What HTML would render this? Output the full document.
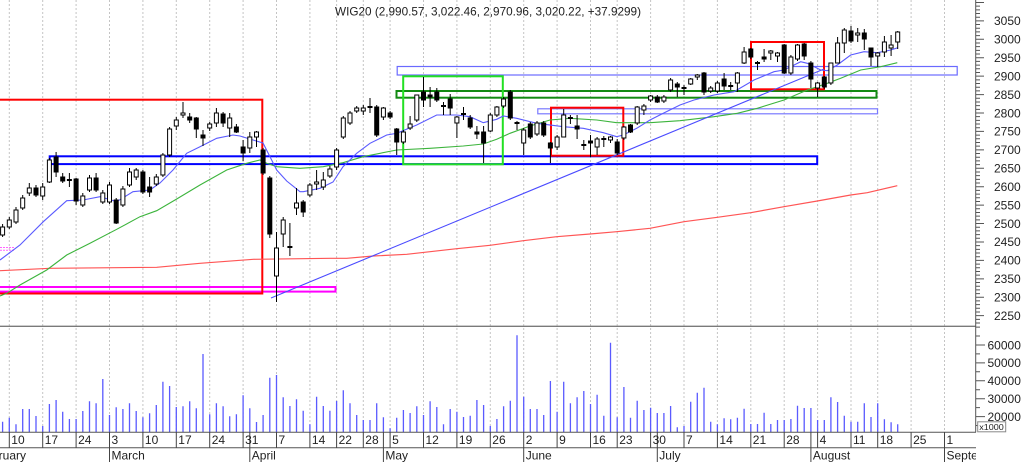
<!DOCTYPE html>
<html><head><meta charset="utf-8"><style>
html,body{margin:0;padding:0;background:#fff;}
svg{display:block;}
text{font-family:"Liberation Sans",Arial,sans-serif;fill:#222;}
</style></head><body>
<svg width="1024" height="462" viewBox="0 0 1024 462" xmlns="http://www.w3.org/2000/svg">
<defs>
<clipPath id="main"><rect x="0" y="0" width="976" height="326"/></clipPath>
<clipPath id="vol"><rect x="0" y="327" width="976" height="105"/></clipPath>
<clipPath id="dates"><rect x="0" y="432" width="976" height="30"/></clipPath>
<clipPath id="axis"><rect x="976" y="0" width="48" height="326"/></clipPath>
</defs>
<rect width="1024" height="462" fill="#fff"/>

<!-- gridlines -->
<path d="M9.3 0V432M42.7 0V432M76.1 0V432M109.5 0V432M142.9 0V432M176.3 0V432M209.7 0V432M243.1 0V432M276.5 0V432M309.9 0V432M336.6 0V432M363.3 0V432M390.1 0V432M423.5 0V432M456.9 0V432M490.3 0V432M523.7 0V432M557.1 0V432M590.5 0V432M617.2 0V432M650.6 0V432M684 0V432M717.4 0V432M750.8 0V432M784.2 0V432M817.6 0V432M851 0V432M877.7 0V432M911.1 0V432M944.5 0V432" stroke="#c4c4c4" stroke-width="1" stroke-dasharray="2 2" fill="none"/>

<g clip-path="url(#main)">
<!-- boxes -->
<rect x="-5" y="287" width="340.5" height="4.6" fill="none" stroke="#ff00ff" stroke-width="2"/>
<rect x="-5" y="99.7" width="267.3" height="193.8" fill="none" stroke="#ff0000" stroke-width="2"/>
<rect x="49.7" y="156.3" width="767.5" height="7.8" fill="none" stroke="#0000ff" stroke-width="2"/>
<rect x="397.2" y="66.5" width="560" height="8.5" fill="none" stroke="#6a6aff" stroke-width="1.2"/>
<rect x="396.5" y="91" width="480" height="6.7" fill="none" stroke="#128a12" stroke-width="2"/>
<rect x="537.8" y="108.8" width="339.7" height="5" fill="none" stroke="#7a7aff" stroke-width="1.2"/>
<rect x="403.2" y="76.3" width="99.6" height="88" fill="none" stroke="#22e022" stroke-width="2"/>
<rect x="551" y="107.7" width="72.3" height="48" fill="none" stroke="#ff0000" stroke-width="2"/>
<rect x="751" y="42" width="73" height="47.3" fill="none" stroke="#ff0000" stroke-width="2"/>
<path d="M0 247.5H15M0 250.3H15" stroke="#ff66ff" stroke-width="1" stroke-dasharray="2 1"/>

<!-- MAs -->
<path d="M0 270.7L50 268.3L156.7 267.3L200 263.3L253.3 259.3L330 258.3L346.7 258.3L373.3 256L406.7 254.3L456.7 248.7L490 245.3L523.3 240.7L556.7 236.7L590 234L616.7 231.7L650 228.3L684 221.7L717.3 217.3L750.7 212.7L784 206.7L817.3 201L850.7 195L867.3 192.7L897.3 185.7" fill="none" stroke="#ff5555" stroke-width="1.2"/>
<path d="M0 296L6.7 293.3L20 285L46.7 270L66.7 255L90 243.3L116.7 229.3L140 216.7L156.7 210.7L176.7 199L200 185L226.7 170L246.7 163.3L260 160L266.7 163.3L276.7 166.7L300 168.3L323.3 166.7L343 162.7L363 156.7L396.7 150L430 148.3L463.3 146L483.3 144L496.7 139.3L510 133.3L530 126L550 120L570 118.3L596.7 120L616.7 122.7L650 122.7L680 120.7L714 116.7L737.3 113.3L757.3 108.3L784 100L807.3 90L827.3 83.3L840.7 78.3L860.7 70L880.7 66.7L897.3 62.7" fill="none" stroke="#3cb43c" stroke-width="1.1"/>
<path d="M271 298L824 69" fill="none" stroke="#4a4aff" stroke-width="1.1"/>
<path d="M0 260L20 245L43.3 221.7L66.7 200.7L83 200L100 196.7L116.7 201.7L133 191.7L150 190L160 183L173 170L186.7 153.3L200 146.7L216.7 138.3L233 135L240 136L253 140L263 143L270 156.7L276.7 170L286.7 181L300 191.7L303.3 191.7L320 188.3L333 182L343 166.7L356.7 153.3L370 143.3L386.7 135L396.7 133.3L416.7 125L436.7 115L456.7 115L470 116.7L483.3 122.7L496.7 119.3L503.3 116L516.7 118.3L536.7 123.3L563.3 126.7L583.3 128.3L603.3 132.7L616.7 136.7L623.3 135L636.7 128.3L650 120L663.3 113.3L680 105L694 100L714 95L734 91.7L754 80L774 71.7L784 70L800.7 61.7L807.3 63.3L820.7 70L827.3 70.7L837.3 65L850.7 55L864 51.7L877.3 52.7L890.7 50L898 47.7" fill="none" stroke="#5a5aff" stroke-width="1.1"/>

<!-- wicks -->
<path d="M2.6 224V237M9.3 217V229M16 207V224M22.7 195V210M29.3 183V196M36 185V197M42.7 183V200M49.4 158V183M56.1 152V177M62.7 173V183M69.4 173V187M76.1 178V205M82.8 193V207M89.5 175V192M96.1 173V192M102.8 190V204M109.5 182V204M116.2 198V224M122.9 186V207M129.5 168V187M136.2 168V180M142.9 170V194M149.6 177V197M156.3 174V186M162.9 153V177M169.6 127V157M176.3 117V130M183 102V118M189.7 113V123M196.3 117V138M203 130V146M209.7 122V131M216.4 108V127M223.1 112V127M229.7 113V137M236.4 124V133M243.1 140V161M249.8 132V153M256.5 131V147M263.1 148V175M269.8 176V238M276.5 232V302M283.2 217V247M289.9 223V256M296.5 188V215M303.2 200V217M309.9 183V197M316.6 170V190M323.3 172V190M329.9 166V178M336.6 148V170M343.3 116V139M350 111V125M356.7 106V113M363.3 105V115M370 98V113M376.7 105V137M383.4 107V120M390.1 111V119M396.7 128V155M403.4 130V144M410.1 116V130M416.8 95V122M423.5 77V107M430.1 87V107M436.8 88V102M443.5 102V115M450.2 94V115M456.9 116V138M463.5 107V120M470.2 115V129M476.9 126V139M483.6 126V163M490.3 113V132M496.9 106V117M503.6 97V108M510.3 90V120M517 121V130M523.7 128V155M530.3 122V139M537 121V136M543.7 121V137M550.4 142V163M557.1 135V150M563.7 109V137M570.4 115V124M577.1 115V139M583.8 140V150M590.5 135V157M597.1 137V155M603.8 136V147M610.5 136V143M617.2 139V155M623.9 126V140M630.5 124V133M637.2 106V125M643.9 104V115M650.6 95V102M657.3 95V103M663.9 95V103M670.6 78V92M677.3 82V97M684 85V95M690.7 78V85M697.3 74V80M704 72V95M710.7 86V93M717.4 81V93M724.1 73V90M730.7 82V90M737.4 72V92M744.1 47V64M750.8 48V59M757.5 61V70M764.1 49V62M770.8 50V60M777.5 52V62M784.2 44V74M790.9 55V75M797.5 44V61M804.2 43V60M810.9 61V88M817.6 82V97M824.3 76V89M830.9 63V85M837.6 37V63M844.3 28V53M851 26V43M857.7 28V42M864.3 29V50M871 48V66M877.7 52V67M884.4 36V57M891.1 35V56M897.7 31V49" stroke="#000" stroke-width="1" fill="none"/>

<!-- white bodies -->
<path d="M0.6 227h4v8h-4zM7.3 220h4v7h-4zM14 210h4v12h-4zM20.7 198h4v10h-4zM27.3 188h4v5h-4zM40.7 187h4v9h-4zM47.4 160h4v22h-4zM80.8 196h4v9h-4zM87.5 178h4v12h-4zM100.8 193h4v9h-4zM107.5 185h4v17h-4zM120.9 189h4v16h-4zM127.5 172h4v13h-4zM134.2 170h4v7h-4zM154.3 177h4v7h-4zM160.9 155h4v20h-4zM167.6 129h4v26h-4zM174.3 120h4v6h-4zM181 113h4v2h-4zM207.7 124h4v4h-4zM214.4 113h4v10h-4zM227.7 118h4v10h-4zM247.8 137h4v11h-4zM254.5 132h4v5h-4zM274.5 248h4v28h-4zM281.2 220h4v14h-4zM294.5 203h4v5h-4zM307.9 185h4v10h-4zM314.6 182h4v2h-4zM321.3 180h4v7h-4zM327.9 169h4v7h-4zM334.6 150h4v17h-4zM341.3 118h4v19h-4zM348 113h4v10h-4zM354.7 108h4v3h-4zM361.3 108h4v3h-4zM381.4 108h4v9h-4zM401.4 132h4v10h-4zM408.1 124h4v4h-4zM414.8 95h4v25h-4zM454.9 117h4v6h-4zM488.3 115h4v16h-4zM494.9 107h4v8h-4zM501.6 99h4v7h-4zM521.7 130h4v13h-4zM535 123h4v11h-4zM555.1 137h4v10h-4zM561.7 115h4v22h-4zM595.1 139h4v8h-4zM608.5 137h4v3h-4zM621.9 127h4v11h-4zM635.2 107h4v16h-4zM641.9 106h4v4h-4zM648.6 96h4v4h-4zM661.9 97h4v4h-4zM668.6 80h4v10h-4zM688.7 79h4v5h-4zM695.3 75h4v2h-4zM708.7 88h4v3h-4zM715.4 83h4v8h-4zM735.4 73h4v10h-4zM742.1 52h4v11h-4zM768.8 51h4v2h-4zM775.5 53h4v3h-4zM788.9 57h4v16h-4zM795.5 45h4v14h-4zM815.6 83h4v5h-4zM828.9 63h4v20h-4zM835.6 43h4v20h-4zM842.3 30h4v13h-4zM855.7 33h4v2h-4zM875.7 53h4v3h-4zM882.4 42h4v10h-4zM889.1 45h4v3h-4zM895.7 32h4v10h-4z" fill="#fff" stroke="#000" stroke-width="1"/>

<!-- black bodies -->
<path d="M34 188h4v7h-4zM54.1 157h4v15h-4zM60.7 177h4v4h-4zM67.4 179.5h4v1h-4zM74.1 179h4v22h-4zM94.1 178h4v12h-4zM114.2 200h4v23h-4zM140.9 172h4v20h-4zM147.6 187h4v5h-4zM187.7 117h4v3h-4zM194.3 118h4v11h-4zM201 135h4v3h-4zM221.1 114h4v9h-4zM234.4 127h4v5h-4zM241.1 147h4v6h-4zM261.1 150h4v23h-4zM267.8 178h4v56h-4zM287.9 246.5h4v1h-4zM301.2 202h4v10h-4zM368 106.5h4v1h-4zM374.7 107h4v28h-4zM388.1 113h4v4h-4zM394.7 129h4v13h-4zM421.5 92h4v8h-4zM428.1 95h4v2h-4zM434.8 92h4v8h-4zM441.5 105.5h4v1h-4zM448.2 99h4v9h-4zM461.5 113.5h4v1h-4zM468.2 118h4v9h-4zM474.9 132h4v2h-4zM481.6 132h4v11h-4zM508.3 92h4v26h-4zM515 122.5h4v1h-4zM528.3 124h4v13h-4zM541.7 123h4v12h-4zM548.4 143h4v5h-4zM568.4 117.5h4v1h-4zM575.1 126h4v3h-4zM581.8 144.5h4v1h-4zM588.5 141h4v2h-4zM601.8 138.5h4v1h-4zM615.2 142h4v11h-4zM628.5 125h4v7h-4zM655.3 97h4v5h-4zM675.3 84h4v3h-4zM682 87.5h4v1h-4zM702 73h4v19h-4zM722.1 79h4v7h-4zM728.7 85.5h4v1h-4zM748.8 49h4v8h-4zM755.5 62.5h4v1h-4zM762.1 57h4v2h-4zM782.2 45h4v28h-4zM802.2 44h4v12h-4zM808.9 63h4v16h-4zM822.3 77h4v10h-4zM849 31h4v10h-4zM862.3 33h4v6h-4zM869 48h4v9h-4z" fill="#000" stroke="#000" stroke-width="1"/>
</g>

<!-- volume bars -->
<g clip-path="url(#vol)">
<path d="M2.6 432V421.7M9.3 432V417.7M16 432V424.3M22.7 432V409M29.3 432V409M36 432V416M42.7 432V426M49.4 432V404M56.1 432V400M62.7 432V411.7M69.4 432V419M76.1 432V419M82.8 432V411M89.5 432V401.3M96.1 432V403.3M102.8 432V379M109.5 432V415M116.2 432V407.3M122.9 432V409M129.5 432V403.3M136.2 432V411M142.9 432V417.3M149.6 432V413.3M156.3 432V405M162.9 432V381.7M169.6 432V386M176.3 432V407M183 432V406.3M189.7 432V401.3M196.3 432V408.3M203 432V354M209.7 432V414.3M216.4 432V403.3M223.1 432V406.3M229.7 432V416.3M236.4 432V414.3M243.1 432V395.3M249.8 432V408.3M256.5 432V422M263.1 432V415M269.8 432V377.7M276.5 432V375M283.2 432V397.3M289.9 432V406M296.5 432V399.3M303.2 432V410.7M309.9 432V424.3M316.6 432V396.7M323.3 432V406M329.9 432V410.7M336.6 432V401M343.3 432V390.3M350 432V403.3M356.7 432V415M363.3 432V420M370 432V420M376.7 432V403.3M383.4 432V417.3M390.1 432V428.3M396.7 432V417.7M403.4 432V410M410.1 432V413M416.8 432V406.3M423.5 432V415M430.1 432V401.3M436.8 432V407M443.5 432V424.3M450.2 432V409M456.9 432V411.7M463.5 432V417M470.2 432V415.7M476.9 432V400M483.6 432V405M490.3 432V426M496.9 432V419M503.6 432V406.3M510.3 432V400.7M517 432V335.3M523.7 432V396.7M530.3 432V409M537 432V409M543.7 432V415M550.4 432V381M557.1 432V411.7M563.7 432V381.7M570.4 432V403.3M577.1 432V397.3M583.8 432V391M590.5 432V404M597.1 432V394.7M603.8 432V415.7M610.5 432V342.7M617.2 432V417.3M623.9 432V387M630.5 432V417.7M637.2 432V400.7M643.9 432V410M650.6 432V407.7M657.3 432V413M663.9 432V413M670.6 432V406M677.3 432V427.3M684 432V426M690.7 432V401.7M697.3 432V392.7M704 432V387.7M710.7 432V421.7M717.4 432V424.3M724.1 432V418.3M730.7 432V419.3M737.4 432V417.7M744.1 432V408.7M750.8 432V424M757.5 432V424M764.1 432V412.7M770.8 432V424M777.5 432V420M784.2 432V420M790.9 432V419M797.5 432V405.7M804.2 432V408M810.9 432V408M817.6 432V420M824.3 432V420M830.9 432V397.3M837.6 432V402M844.3 432V415.7M851 432V421.7M857.7 432V421.7M864.3 432V403.3M871 432V417M877.7 432V403.3M884.4 432V419.3M891.1 432V422.3M897.7 432V424.3" stroke="#5a5aff" stroke-width="1.3" fill="none"/>
</g>

<!-- panel lines -->
<path d="M0 326.3H976" stroke="#7a7a7a" stroke-width="1.3"/>
<path d="M0 432.3H976M0 447.7H976" stroke="#555" stroke-width="1"/>
<path d="M975.7 0V432.3" stroke="#555" stroke-width="1"/>

<!-- price axis ticks -->
<g clip-path="url(#axis)">
<path d="M976 2.45h8m-8 3.685h4m-4 3.685h4m-4 3.685h4m-4 3.685h4m-4 3.685h8m-8 3.685h4m-4 3.685h4m-4 3.685h4m-4 3.685h4m-4 3.685h8m-8 3.685h4m-4 3.685h4m-4 3.685h4m-4 3.685h4m-4 3.685h8m-8 3.685h4m-4 3.685h4m-4 3.685h4m-4 3.685h4m-4 3.685h8m-8 3.685h4m-4 3.685h4m-4 3.685h4m-4 3.685h4m-4 3.685h8m-8 3.685h4m-4 3.685h4m-4 3.685h4m-4 3.685h4m-4 3.685h8m-8 3.685h4m-4 3.685h4m-4 3.685h4m-4 3.685h4m-4 3.685h8m-8 3.685h4m-4 3.685h4m-4 3.685h4m-4 3.685h4m-4 3.685h8m-8 3.685h4m-4 3.685h4m-4 3.685h4m-4 3.685h4m-4 3.685h8m-8 3.685h4m-4 3.685h4m-4 3.685h4m-4 3.685h4m-4 3.685h8m-8 3.685h4m-4 3.685h4m-4 3.685h4m-4 3.685h4m-4 3.685h8m-8 3.685h4m-4 3.685h4m-4 3.685h4m-4 3.685h4m-4 3.685h8m-8 3.685h4m-4 3.685h4m-4 3.685h4m-4 3.685h4m-4 3.685h8m-8 3.685h4m-4 3.685h4m-4 3.685h4m-4 3.685h4m-4 3.685h8m-8 3.685h4m-4 3.685h4m-4 3.685h4m-4 3.685h4m-4 3.685h8m-8 3.685h4m-4 3.685h4m-4 3.685h4m-4 3.685h4m-4 3.685h8m-8 3.685h4m-4 3.685h4m-4 3.685h4m-4 3.685h4m-4 3.685h8m-8 3.685h4m-4 3.685h4m-4 3.685h4m-4 3.685h4" stroke="#555" stroke-width="1" fill="none"/>
</g>
<!-- volume axis ticks -->
<path d="M976 327.1h4M976 336h4M976 345h9M976 353.9h4M976 362.9h9M976 371.8h4M976 380.8h9M976 389.7h4M976 398.7h9M976 407.6h4M976 416.6h9M976 425.5h4" stroke="#555" stroke-width="1" fill="none"/>

<!-- price labels -->
<g font-size="12">
<text x="994" y="25.2">3050</text>
<text x="994" y="43.6">3000</text>
<text x="994" y="62">2950</text>
<text x="994" y="80.5">2900</text>
<text x="994" y="98.9">2850</text>
<text x="994" y="117.3">2800</text>
<text x="994" y="135.7">2750</text>
<text x="994" y="154.1">2700</text>
<text x="994" y="172.6">2650</text>
<text x="994" y="191">2600</text>
<text x="994" y="209.4">2550</text>
<text x="994" y="227.8">2500</text>
<text x="994" y="246.2">2450</text>
<text x="994" y="264.7">2400</text>
<text x="994" y="283.1">2350</text>
<text x="994" y="301.5">2300</text>
<text x="994" y="319.9">2250</text>
<text x="987.5" y="349.3">60000</text>
<text x="987.5" y="367.2">50000</text>
<text x="987.5" y="385.1">40000</text>
<text x="987.5" y="403">30000</text>
<text x="987.5" y="420.9">20000</text>
</g>
<rect x="977.7" y="421.8" width="28" height="10" fill="#fff" stroke="#888" stroke-width="1"/>
<text x="979.3" y="430" font-size="8.5" textLength="24.5" lengthAdjust="spacingAndGlyphs">x1000</text>

<!-- title -->
<text x="335" y="15.5" font-size="12" fill="#333" textLength="306" lengthAdjust="spacingAndGlyphs">WIG20 (2,990.57, 3,022.46, 2,970.96, 3,020.22, +37.9299)</text>

<!-- date axis -->
<g clip-path="url(#dates)">
<path d="M9.3 432V447.7M42.7 432V447.7M76.1 432V447.7M142.9 432V447.7M176.3 432V447.7M209.7 432V447.7M243.1 432V447.7M276.5 432V447.7M309.9 432V447.7M336.6 432V447.7M363.3 432V447.7M390.1 432V447.7M423.5 432V447.7M456.9 432V447.7M490.3 432V447.7M557.1 432V447.7M590.5 432V447.7M617.2 432V447.7M650.6 432V447.7M684 432V447.7M717.4 432V447.7M750.8 432V447.7M784.2 432V447.7M817.6 432V447.7M851 432V447.7M877.7 432V447.7M911.1 432V447.7M109.5 432V462M249.8 432V462M383.4 432V462M523.7 432V462M657.3 432V462M810.9 432V462M944.5 432V462" stroke="#444" stroke-width="1" fill="none"/>
<g font-size="12">
<text x="11.3" y="444">10</text>
<text x="44.7" y="444">17</text>
<text x="78.1" y="444">24</text>
<text x="111.5" y="444">3</text>
<text x="144.9" y="444">10</text>
<text x="178.3" y="444">17</text>
<text x="211.7" y="444">24</text>
<text x="245.1" y="444">31</text>
<text x="278.5" y="444">7</text>
<text x="311.9" y="444">14</text>
<text x="338.6" y="444">22</text>
<text x="365.3" y="444">28</text>
<text x="392.1" y="444">5</text>
<text x="425.5" y="444">12</text>
<text x="458.9" y="444">19</text>
<text x="492.3" y="444">26</text>
<text x="525.7" y="444">2</text>
<text x="559.1" y="444">9</text>
<text x="592.5" y="444">16</text>
<text x="619.2" y="444">23</text>
<text x="652.6" y="444">30</text>
<text x="686" y="444">7</text>
<text x="719.4" y="444">14</text>
<text x="752.8" y="444">21</text>
<text x="786.2" y="444">28</text>
<text x="819.6" y="444">4</text>
<text x="853" y="444">11</text>
<text x="879.7" y="444">18</text>
<text x="913.1" y="444">25</text>
<text x="946.5" y="444">1</text>
<text x="-22" y="459.3">February</text>
<text x="111.5" y="459.3">March</text>
<text x="251.8" y="459.3">April</text>
<text x="385.4" y="459.3">May</text>
<text x="525.7" y="459.3">June</text>
<text x="659.3" y="459.3">July</text>
<text x="812.9" y="459.3">August</text>
<text x="946.5" y="459.3">September</text>
</g>
</g>
</svg>
</body></html>
